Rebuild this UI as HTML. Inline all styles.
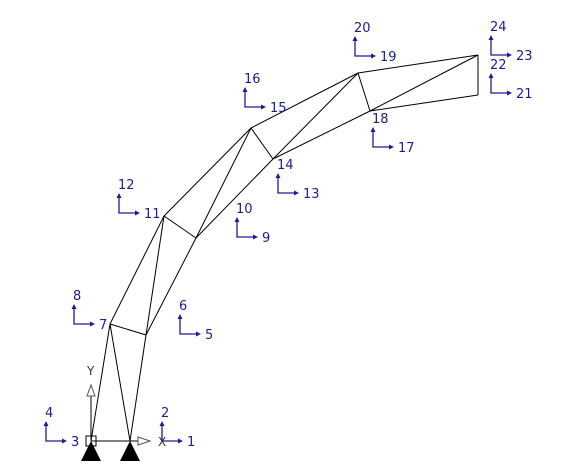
<!DOCTYPE html>
<html><head><meta charset="utf-8"><style>
html,body{margin:0;padding:0;background:#fff;}
svg{display:block;}
text{font-family:"DejaVu Sans","Liberation Sans",sans-serif;font-size:13px;fill:#1c1c96;}
</style></head><body>
<svg id="s" width="569" height="471" viewBox="0 0 569 471"></svg>
<script>
const nodeNames=['A','B','C','D','E','F','G','H','I','J','K','L'];
const nodeX=[91,130,110,146,164,196,251,273,358,370,478,478];
const nodeY=[441,441,324,335,216,238,128,159,73,111,55,95];
const members=[['A','C'],['B','C'],['B','D'],['C','D'],['C','E'],['D','F'],['D','E'],['E','F'],['E','G'],['F','H'],['F','G'],['G','H'],['G','I'],['H','J'],['H','I'],['I','J'],['I','K'],['J','L'],['J','K'],['K','L']];
const markerX=[46,162,74,180,119,237,245,278,355,373,491,491];
const markerY=[441,441,324,334,213,237,107,193,56,147,55,93];
const markerRight=['3','1','7','5','11','9','15','13','19','17','23','21'];
const markerTop=['4','2','8','6','12','10','16','14','20','18','24','22'];
const NS='http://www.w3.org/2000/svg';
const svg=document.getElementById('s');
function mk(t,a){const e=document.createElementNS(NS,t);for(const k in a)e.setAttribute(k,a[k]);svg.appendChild(e);return e;}
const idx=n=>nodeNames.indexOf(n);
members.forEach(m=>{const i=idx(m[0]),j=idx(m[1]);
 const l=mk('line',{x1:nodeX[i],y1:nodeY[i],x2:nodeX[j],y2:nodeY[j],stroke:'#000','stroke-width':1});
 
 
});
// global axes
mk('line',{x1:91,y1:441,x2:150,y2:441,stroke:'#000'});
mk('polygon',{points:'138,437 150,441 138,445',fill:'#fff',stroke:'#555'});
mk('line',{x1:91,y1:441,x2:91,y2:385,stroke:'#000'});
mk('polygon',{points:'87,396 91,385 95,396',fill:'#fff',stroke:'#555'});
const ty=mk('text',{x:87,y:375,style:'fill:#333;font-size:12px'});ty.textContent='Y';


const tx=mk('text',{x:158,y:446,style:'fill:#333;font-size:12px'});tx.textContent='X';


mk('rect',{x:86,y:436,width:10,height:10,fill:'none',stroke:'#000'});
// supports
[0,1].forEach(i=>{const p=mk('polygon',{points:`${nodeX[i]},${nodeY[i]} ${nodeX[i]-10},${nodeY[i]+20} ${nodeX[i]+10},${nodeY[i]+20}`,fill:'#000'});
 
 
});
// DOF markers
markerX.forEach((cx,k)=>{const cy=markerY[k];
 const g=document.createElementNS(NS,'g');svg.appendChild(g);
 
 
 const add=(t,a)=>{const e=document.createElementNS(NS,t);for(const q in a)e.setAttribute(q,a[q]);g.appendChild(e);return e;};
 add('polyline',{points:`${cx},${cy-16} ${cx},${cy} ${cx+17},${cy}`,fill:'none',stroke:'#1c1c96','stroke-width':1.3});
 add('polygon',{points:`${cx-2.5},${cy-15} ${cx},${cy-20} ${cx+2.5},${cy-15}`,fill:'#1c1c96'});
 add('polygon',{points:`${cx+16},${cy-2.5} ${cx+21},${cy} ${cx+16},${cy+2.5}`,fill:'#1c1c96'});
 const t1=add('text',{x:cx+25,y:cy+5});t1.textContent=markerRight[k];
 const t2=add('text',{x:cx-1,y:cy-24});t2.textContent=markerTop[k];
});
</script>
</body></html>
